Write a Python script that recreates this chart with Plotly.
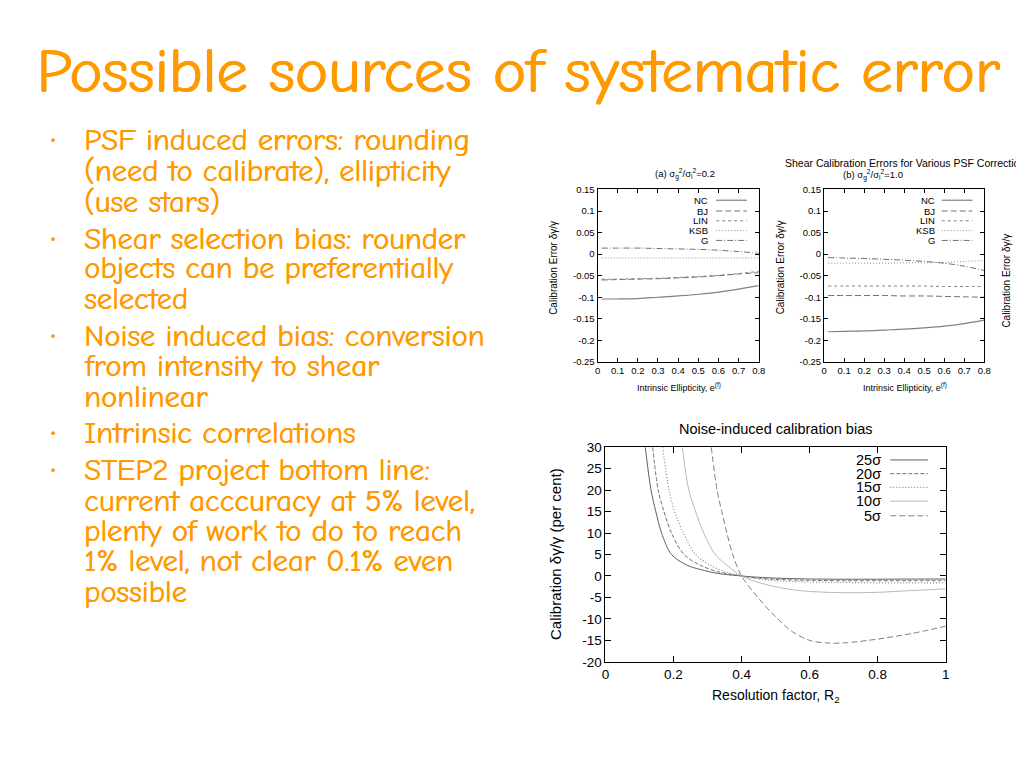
import plotly.graph_objects as go

# ---------------- data ----------------
ell_x = [0.02, 0.1, 0.2, 0.3, 0.4, 0.5, 0.6, 0.7, 0.8]
methods = ["NC", "BJ", "LIN", "KSB", "G"]

a_NC = [-0.104, -0.104, -0.103, -0.100, -0.097, -0.093, -0.088, -0.081, -0.073]
a_BJ = [-0.060, -0.059, -0.058, -0.057, -0.055, -0.053, -0.050, -0.046, -0.043]
a_LIN = [-0.058, -0.058, -0.057, -0.056, -0.054, -0.052, -0.049, -0.045, -0.040]
a_KSB = [-0.009, -0.009, -0.009, -0.009, -0.009, -0.009, -0.009, -0.009, -0.009]
a_G = [0.014, 0.014, 0.014, 0.013, 0.012, 0.011, 0.009, 0.006, 0.002]

b_NC = [-0.180, -0.179, -0.178, -0.176, -0.174, -0.171, -0.167, -0.161, -0.153]
b_BJ = [-0.096, -0.096, -0.096, -0.096, -0.097, -0.097, -0.098, -0.099, -0.100]
b_LIN = [-0.074, -0.074, -0.074, -0.074, -0.074, -0.074, -0.075, -0.075, -0.075]
b_KSB = [-0.021, -0.021, -0.021, -0.021, -0.020, -0.020, -0.019, -0.017, -0.015]
b_G = [-0.008, -0.009, -0.010, -0.012, -0.014, -0.017, -0.021, -0.028, -0.038]

ell_yticks = [0.15, 0.1, 0.05, 0, -0.05, -0.1, -0.15, -0.2, -0.25]
ell_ytext = ["0.15", "0.1", "0.05", "0", "-0.05", "-0.1", "-0.15", "-0.2", "-0.25"]
ell_xticks = [0, 0.1, 0.2, 0.3, 0.4, 0.5, 0.6, 0.7, 0.8]
ell_xtext = ["0", "0.1", "0.2", "0.3", "0.4", "0.5", "0.6", "0.7", "0.8"]

noise_labels = ["25σ", "20σ", "15σ", "10σ", "5σ"]
r25 = [0.117, 0.134, 0.148, 0.165, 0.194, 0.24, 0.28, 0.33, 0.4, 0.45, 0.5, 0.6, 0.7, 0.8, 0.9, 1.0]
v25 = [30, 20, 15, 10, 5, 2.5, 1.5, 0.6, 0, -0.3, -0.5, -0.7, -0.75, -0.75, -0.72, -0.7]
r20 = [0.139, 0.155, 0.172, 0.194, 0.231, 0.279, 0.33, 0.4, 0.45, 0.5, 0.6, 0.7, 0.8, 0.9, 1.0]
v20 = [30, 20, 15, 10, 5, 2.5, 1.0, 0, -0.5, -0.8, -1.0, -1.1, -1.1, -1.1, -1.1]
r15 = [0.168, 0.187, 0.203, 0.229, 0.265, 0.308, 0.35, 0.4, 0.45, 0.5, 0.6, 0.7, 0.8, 0.9, 1.0]
v15 = [30, 20, 15, 10, 5, 2.5, 1.0, 0, -0.7, -1.1, -1.4, -1.5, -1.6, -1.6, -1.6]
r10 = [0.226, 0.245, 0.265, 0.289, 0.323, 0.357, 0.4, 0.45, 0.5, 0.55, 0.6, 0.7, 0.8, 0.9, 1.0]
v10 = [30, 20, 15, 10, 5, 2.5, 0, -1.5, -2.5, -3.2, -3.6, -3.9, -3.8, -3.4, -3.0]
r5 = [0.311, 0.328, 0.342, 0.357, 0.374, 0.4, 0.45, 0.5, 0.55, 0.6, 0.65, 0.7, 0.8, 0.9, 1.0]
v5 = [30, 20, 15, 10, 5, 0, -5.2, -9.5, -13.0, -15.0, -15.6, -15.6, -14.7, -13.4, -11.7]

noise_yticks = [30, 25, 20, 15, 10, 5, 0, -5, -10, -15, -20]
noise_ytext = ["30", "25", "20", "15", "10", "5", "0", "-5", "-10", "-15", "-20"]
noise_xticks = [0, 0.2, 0.4, 0.6, 0.8, 1]
noise_xtext = ["0", "0.2", "0.4", "0.6", "0.8", "1"]

slide_title = "Possible sources of systematic error"
bullet_lines = [
    ("PSF induced errors: rounding", True),
    ("(need to calibrate), ellipticity", False),
    ("(use stars)", False),
    ("Shear selection bias: rounder", True),
    ("objects can be preferentially", False),
    ("selected", False),
    ("Noise induced bias: conversion", True),
    ("from intensity to shear", False),
    ("nonlinear", False),
    ("Intrinsic correlations", True),
    ("STEP2 project bottom line:", True),
    ("current acccuracy at 5% level,", False),
    ("plenty of work to do to reach", False),
    ("1% level, not clear 0.1% even", False),
    ("possible", False),
]
bullet_y = [136, 168, 199, 237, 267, 298, 336, 367, 398, 435, 473, 504, 535, 566, 597]

# ---------------- helpers ----------------
# the page body has an 8px margin; the figure is sized so the page fits 1024x768
OFF = 8
W, H = 1024 - 2 * OFF, 768 - 2 * OFF
def px(x):
    return (x - OFF) / W
def py(y):
    return 1 - (y - OFF) / H

ORANGE = "#FF9900"
TICKFONT = "Liberation Sans, Arial, sans-serif"
BFONT = "Comic Sans MS, Comic Neue, Noto Sans, sans-serif"

fig = go.Figure()

styles = {
    "NC": dict(color="#808080", dash="solid", width=1.2),
    "BJ": dict(color="#707070", dash="6px,3px", width=1),
    "LIN": dict(color="#808080", dash="3px,3px", width=1),
    "KSB": dict(color="#909090", dash="1px,2px", width=1),
    "G": dict(color="#707070", dash="6px,2px,1px,2px", width=1),
}

a_series = [a_NC, a_BJ, a_LIN, a_KSB, a_G]
b_series = [b_NC, b_BJ, b_LIN, b_KSB, b_G]
for name, ys in zip(methods, a_series):
    fig.add_trace(go.Scatter(x=ell_x, y=ys, mode="lines", line=dict(shape="spline", **styles[name]),
                             xaxis="x", yaxis="y", showlegend=False, name=name))
for name, ys in zip(methods, b_series):
    fig.add_trace(go.Scatter(x=ell_x, y=ys, mode="lines", line=dict(shape="spline", **styles[name]),
                             xaxis="x2", yaxis="y2", showlegend=False, name=name))

noise_styles = [
    dict(color="#606060", dash="solid", width=1),
    dict(color="#707070", dash="4px,2px", width=1),
    dict(color="#8a8a8a", dash="1px,2px", width=1.2),
    dict(color="#b8b8b8", dash="solid", width=1),
    dict(color="#808080", dash="6px,3px", width=1),
]
noise_x = [r25, r20, r15, r10, r5]
noise_y = [v25, v20, v15, v10, v5]
for lab, xs, ys, st in zip(noise_labels, noise_x, noise_y, noise_styles):
    fig.add_trace(go.Scatter(x=xs, y=ys, mode="lines", line=dict(shape="spline", smoothing=0.9, **st),
                             xaxis="x3", yaxis="y3", showlegend=False, name=lab))

def axis_common(size, ticklen):
    return dict(showline=True, linecolor="black", linewidth=1, mirror="allticks",
                ticks="inside", ticklen=ticklen, tickcolor="black", tickwidth=1,
                showgrid=False, zeroline=False,
                tickfont=dict(family=TICKFONT, size=size, color="black"))

fig.update_layout(
    width=W, height=H, margin=dict(l=0, r=0, t=0, b=0),
    paper_bgcolor="white", plot_bgcolor="white",
    xaxis=dict(domain=[px(600), px(763)], range=[0, 0.8], anchor="y",
               tickvals=ell_xticks, ticktext=ell_xtext, **axis_common(9.5, 4)),
    yaxis=dict(domain=[py(362), py(186)], range=[-0.25, 0.15], anchor="x",
               tickvals=ell_yticks, ticktext=ell_ytext, **axis_common(9.5, 4)),
    xaxis2=dict(domain=[px(829), px(991)], range=[0, 0.8], anchor="y2",
                tickvals=ell_xticks, ticktext=ell_xtext, **axis_common(9.5, 4)),
    yaxis2=dict(domain=[py(362), py(186)], range=[-0.25, 0.15], anchor="x2",
                tickvals=ell_yticks, ticktext=ell_ytext, **axis_common(9.5, 4)),
    xaxis3=dict(domain=[px(608), px(952)], range=[0, 1], anchor="y3",
                tickvals=noise_xticks, ticktext=noise_xtext, **axis_common(13.5, 6)),
    yaxis3=dict(domain=[py(668), py(449)], range=[-20, 30], anchor="x3",
                tickvals=noise_yticks, ticktext=noise_ytext, **axis_common(13.5, 6)),
)

ann = []
shapes = []

def txt(x, y, text, size, color="black", family=TICKFONT, xanchor="center", angle=0,
        yanchor="middle", shadow="none"):
    ann.append(dict(x=px(x), y=py(y), xref="paper", yref="paper", text=text, showarrow=False,
                    xanchor=xanchor, yanchor=yanchor, textangle=angle, borderpad=0,
                    font=dict(size=size, color=color, family=family, shadow=shadow)))

# slide title
txt(519, 66, slide_title, 63, ORANGE, BFONT, shadow="1.2px 0px 0px #FF9900")

# bullets
for (line, is_b), y in zip(bullet_lines, bullet_y):
    txt(80, y, line, 30.5, ORANGE, BFONT, xanchor="left", shadow="0.6px 0px 0px #FF9900")
    if is_b:
        txt(49, y - 2, "•", 20, ORANGE, BFONT, xanchor="center")

# panel (a)/(b) texts
txt(688, 170, "(a) σ<sub>g</sub><sup>2</sup>/σ<sub>i</sub><sup>2</sup>=0.2", 9.5)
txt(789, 159, "Shear Calibration Errors for Various PSF Corrections", 10.5, xanchor="left")
txt(879, 171, "(b) σ<sub>g</sub><sup>2</sup>/σ<sub>i</sub><sup>2</sup>=1.0", 9.5)
txt(682, 388, "Intrinsic Ellipticity, e<sup>(f)</sup>", 9)
txt(911, 388, "Intrinsic Ellipticity, e<sup>(f)</sup>", 9)
txt(556, 266, "Calibration Error δγ/γ", 10, angle=-90)
txt(785, 266, "Calibration Error δγ/γ", 10, angle=-90)
txt(1014, 279, "Calibration Error δγ/γ", 10, angle=-90)

# legends (a) and (b)
leg_y = [197, 208, 218, 228, 238]
for name, y in zip(methods, leg_y):
    txt(713, y, name, 9.5, xanchor="right")
    txt(942, y, name, 9.5, xanchor="right")
    st = styles[name]
    for x0, x1 in [(720, 751), (948, 979)]:
        shapes.append(dict(type="line", xref="paper", yref="paper", x0=px(x0), x1=px(x1),
                           y0=py(y), y1=py(y), line=dict(color=st["color"], dash=st["dash"], width=st["width"])))

# panel (c) texts
txt(780, 430, "Noise-induced calibration bias", 14.5)
txt(780, 703, "Resolution factor, R<sub>2</sub>", 14)
txt(557, 558, "Calibration δγ/γ (per cent)", 15, angle=-90)
leg3_y = [462, 476, 490, 504, 519]
for lab, y, st in zip(noise_labels, leg3_y, noise_styles):
    txt(888, y, lab, 14.5, xanchor="right")
    shapes.append(dict(type="line", xref="paper", yref="paper", x0=px(896), x1=px(934),
                       y0=py(y), y1=py(y), line=dict(color=st["color"], dash=st["dash"], width=st["width"])))

fig.update_layout(annotations=ann, shapes=shapes)
fig.write_html("out.html")
